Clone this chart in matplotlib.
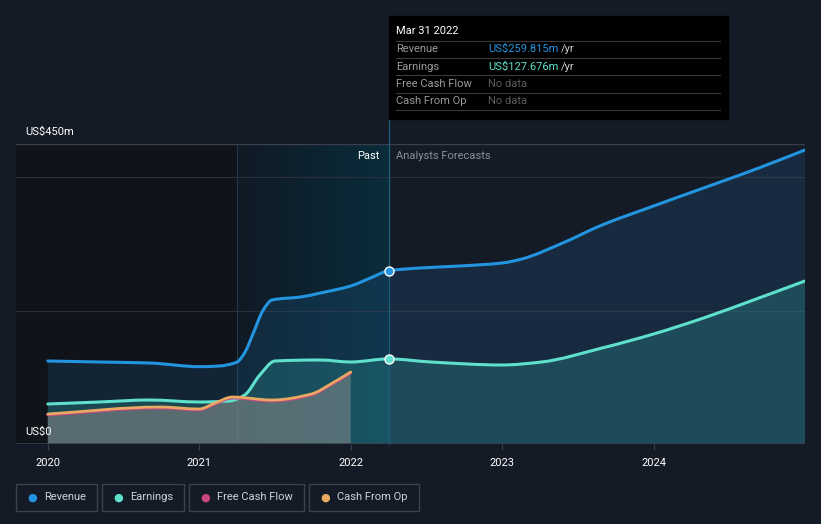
import numpy as np
import matplotlib.pyplot as plt
from matplotlib.path import Path
from matplotlib.patches import PathPatch
from matplotlib.colors import LinearSegmentedColormap

# data (US$ m)
rev_x = [2020.0, 2020.34, 2020.67, 2021.0, 2021.13, 2021.25, 2021.3, 2021.36, 2021.42, 2021.48,
         2021.67, 2021.8, 2022.0, 2022.13, 2022.25, 2022.46, 2022.72, 2023.0, 2023.13, 2023.4,
         2023.66, 2024.0, 2024.33, 2024.66, 2025.0]
rev_y = [124.5, 123, 121.5, 116, 117, 123, 137, 168, 200, 216,
         220.5, 226.5, 237, 249, 259.815, 264, 267, 271.5, 277.5, 301.5,
         328.5, 357, 384, 411, 441]

earn_x = [2020.0, 2020.34, 2020.67, 2021.0, 2021.2, 2021.3, 2021.4, 2021.5, 2021.8, 2022.0,
          2022.25, 2022.53, 2023.0, 2023.26, 2023.66, 2024.0, 2024.33, 2024.66, 2025.0]
earn_y = [60, 63, 66, 63, 64.5, 73.5, 103.5, 124.5, 126, 123,
          127.676, 123, 118.5, 123, 144, 165, 189, 216, 244.5]

cfo_x = [2020.0, 2020.74, 2021.0, 2021.1, 2021.22, 2021.48, 2021.74, 2021.88, 2022.0]
cfo_y = [45, 55.5, 52.5, 61, 70.5, 66, 75, 91.5, 108]

fcf_x = [2020.0, 2020.74, 2021.0, 2021.1, 2021.22, 2021.48, 2021.74, 2021.88, 2022.0]
fcf_y = [43.5, 54, 51, 59.5, 69, 64.5, 73.5, 90, 106.5]

years = [2020, 2021, 2022, 2023, 2024]
now_x = 2022.25
band_x = 2021.25

W, H = 821, 524
bg = '#151b26'
rev_c = '#2394df'
earn_c = '#5fe0cc'
fcf_c = '#c9457f'
cfo_c = '#e8aa62'

plt.rcParams['font.family'] = ['Roboto', 'DejaVu Sans']


def smooth_path(xs, ys, close=False):
    # monotone cubic bezier through the points
    x = np.asarray(xs, float)
    y = np.asarray(ys, float)
    d = np.diff(y) / np.diff(x)
    m = np.zeros_like(y)
    m[0], m[-1] = d[0], d[-1]
    for i in range(1, len(y) - 1):
        if d[i - 1] * d[i] <= 0:
            m[i] = 0
        else:
            h0, h1 = x[i] - x[i - 1], x[i + 1] - x[i]
            w1, w2 = 2 * h1 + h0, h1 + 2 * h0
            m[i] = (w1 + w2) / (w1 / d[i - 1] + w2 / d[i])
    verts = [(x[0], y[0])]
    codes = [Path.MOVETO]
    for i in range(len(x) - 1):
        h = x[i + 1] - x[i]
        verts += [(x[i] + h / 3, y[i] + m[i] * h / 3),
                  (x[i + 1] - h / 3, y[i + 1] - m[i + 1] * h / 3),
                  (x[i + 1], y[i + 1])]
        codes += [Path.CURVE4] * 3
    if close:
        verts += [(x[-1], 0), (x[0], 0), (x[0], y[0])]
        codes += [Path.LINETO, Path.LINETO, Path.CLOSEPOLY]
    return Path(verts, codes)


fig = plt.figure(figsize=(W / 100, H / 100), dpi=100, facecolor=bg)
ax = fig.add_axes([16 / W, 1 - 444 / H, 789 / W, 300 / H])
ax.set_facecolor(bg)
x0, x1 = 2019.79, 2025.0
ax.set_xlim(x0, x1)
ax.set_ylim(0, 450)

# past region darker, highlighted band gradient
ax.axvspan(x0, band_x, color='#101319', zorder=0, lw=0)
grad = np.linspace(0, 1, 256).reshape(1, -1)
cmap = LinearSegmentedColormap.from_list('band', ['#0f1a24', '#0a2c3b'])
ax.imshow(grad, cmap=cmap, extent=[band_x, now_x, 0, 450], aspect='auto', zorder=0.5)
ax.axvline(band_x, color='#1d3a48', lw=0.8, zorder=0.6)

# gridlines
for g in [200, 400]:
    ax.axhline(g, color='#2a303b', lw=0.8, zorder=1)
ax.axhline(450, color='#3a404b', lw=1, zorder=1)
ax.axhline(0, color='#3a404b', lw=1.2, zorder=6)

# fills
ax.add_patch(PathPatch(smooth_path(rev_x, rev_y, True), facecolor='#1f5a8a', alpha=0.25, lw=0, zorder=2))
ax.add_patch(PathPatch(smooth_path(earn_x, earn_y, True), facecolor='#2f9a9a', alpha=0.3, lw=0, zorder=2.1))
ax.add_patch(PathPatch(smooth_path(cfo_x, cfo_y, True), facecolor='#8a8a8a', alpha=0.55, lw=0, zorder=2.2))

# now line (runs up to tooltip)
ax.plot([now_x, now_x], [0, 450 + 128 * 1.5], color='#1d5f78', lw=0.9, zorder=3, clip_on=False)

# lines
for xs, ys, c, lw, z in [(rev_x, rev_y, rev_c, 2.2, 4), (earn_x, earn_y, earn_c, 2.2, 4),
                         (fcf_x, fcf_y, fcf_c, 2.0, 4.1), (cfo_x, cfo_y, cfo_c, 2.0, 4.2)]:
    ax.add_patch(PathPatch(smooth_path(xs, ys), facecolor='none', edgecolor=c, lw=lw,
                           zorder=z, capstyle='round'))

ax.plot([now_x], [rev_y[rev_x.index(now_x)]], 'o', ms=6.5, color=rev_c, mec='white', mew=1, zorder=5)
ax.plot([now_x], [earn_y[earn_x.index(now_x)]], 'o', ms=6.5, color=earn_c, mec='white', mew=1, zorder=5)

ax.set_xticks(years)
ax.set_xticklabels([str(y) for y in years], color='white', fontsize=8)
ax.tick_params(axis='x', length=4, color='#3a404b', pad=6)
ax.set_yticks([])
for s in ax.spines.values():
    s.set_visible(False)


def px(x, y):
    return x / W, 1 - y / H


fig.text(*px(25, 132), 'US$450m', color='white', fontsize=8, va='center')
fig.text(*px(25, 432), 'US$0', color='white', fontsize=8, va='center', zorder=10)
fig.text(*px(379, 156), 'Past', color='white', fontsize=8, va='center', ha='right')
fig.text(*px(396, 156), 'Analysts Forecasts', color='#8a8f98', fontsize=8, va='center')

# tooltip
tip = plt.Rectangle(px(389, 119), 339 / W, 103 / H, color='black', zorder=20, transform=fig.transFigure)
fig.add_artist(tip)
fig.text(*px(396, 31), 'Mar 31 2022', color='white', fontsize=8, va='center', zorder=21)
for yl in [41, 58, 75, 93, 110]:
    fig.add_artist(plt.Line2D([396 / W, 720 / W], [1 - yl / H] * 2, color='#3a3a3a', lw=0.8, zorder=21))
rows = [('Revenue', 'US$259.815m', rev_c, True),
        ('Earnings', 'US$127.676m', earn_c, True),
        ('Free Cash Flow', 'No data', '#5c5c5c', False),
        ('Cash From Op', 'No data', '#5c5c5c', False)]
for i, (lab, val, c, yr) in enumerate(rows):
    yy = 49 + i * 17.5
    fig.text(*px(396, yy), lab, color='#9a9a9a', fontsize=8, va='center', zorder=21)
    fig.text(*px(488, yy), val, color=c, fontsize=8, va='center', zorder=21)
    if yr:
        fig.text(*px(561, yy), '/yr', color='#cfcfcf', fontsize=8, va='center', zorder=21)

# legend
legend = [('Revenue', rev_c, 16, 97), ('Earnings', earn_c, 102, 184),
          ('Free Cash Flow', fcf_c, 189, 304), ('Cash From Op', cfo_c, 309, 419)]
for lab, c, l, r in legend:
    box = plt.Rectangle(px(l, 511), (r - l) / W, 27 / H, transform=fig.transFigure,
                        facecolor='none', edgecolor='#3c424d', lw=1)
    fig.add_artist(box)
    fig.text(*px(l + 16, 497.5), '\u25cf', color=c, fontsize=8, va='center', ha='center')
    fig.text(*px(l + 28, 497.5), lab, color='#d0d3d8', fontsize=8, va='center')

fig.savefig('out.png', dpi=100, facecolor=bg)
